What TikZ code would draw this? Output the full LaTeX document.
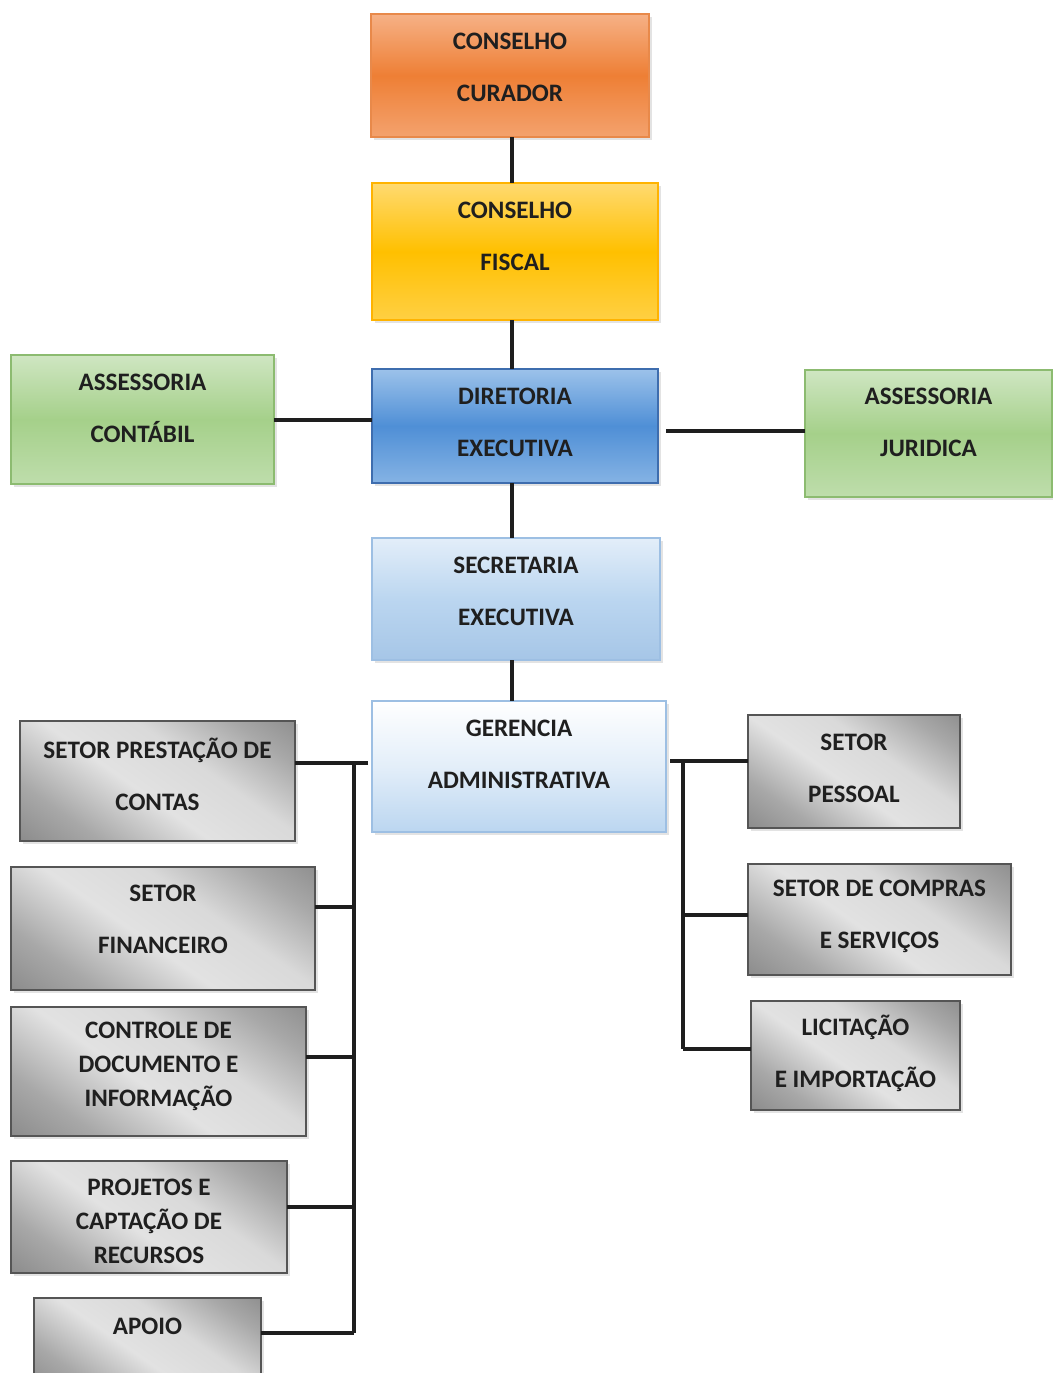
\documentclass[tikz,border=0pt]{standalone}
\usepackage{fontspec}
\setmainfont{Carlito}
\usetikzlibrary{shadows}
\definecolor{lnc}{HTML}{1E1E1E}
\definecolor{orM}{HTML}{EE7F35}
\definecolor{orL}{HTML}{F6B186}
\definecolor{orB}{HTML}{E8894A}
\definecolor{yeM}{HTML}{FFC000}
\definecolor{yeL}{HTML}{FFDA70}
\definecolor{blM}{HTML}{4F8FD6}
\definecolor{blL}{HTML}{9CC2EA}
\definecolor{blB}{HTML}{3E6DAE}
\definecolor{grM}{HTML}{A5D08A}
\definecolor{grL}{HTML}{CFE6C2}
\definecolor{grB}{HTML}{8CBB70}
\definecolor{lbM}{HTML}{BBD6F0}
\definecolor{lbL}{HTML}{E3EEF9}
\definecolor{lbB}{HTML}{9DBFE3}
\definecolor{gyD}{HTML}{6A6A6A}
\definecolor{gyM}{HTML}{A8A8A8}
\definecolor{gyL}{HTML}{E2E2E2}
\definecolor{gyB}{HTML}{555555}
\pgfdeclareverticalshading{grayshade}{100bp}{color(0bp)=(gyD); color(28bp)=(gyM); color(45bp)=(gyL); color(60bp)=(gyL!85!gyM); color(75bp)=(gyM); color(100bp)=(gyD)}
\tikzset{
  basebox/.style={rectangle, inner sep=0pt, outer sep=0pt, line width=1.2pt,
    drop shadow={opacity=0.22, shadow xshift=1.6pt, shadow yshift=-1.6pt}},
  orbox/.style={basebox, draw=orB, top color=orL, bottom color=orL!70!orM, middle color=orM},
  yebox/.style={basebox, draw=yeM!80!orange, top color=yeL, bottom color=yeL!60!yeM, middle color=yeM},
  blbox/.style={basebox, draw=blB, top color=blL, bottom color=blL!70!blM, middle color=blM},
  grbox/.style={basebox, draw=grB, top color=grL, bottom color=grL!60!grM, middle color=grM},
  lbbox/.style={basebox, draw=lbB, top color=lbL, bottom color=lbB!70!lbM, middle color=lbM},
  gebox/.style={basebox, draw=lbB, top color=white, bottom color=lbM, middle color=lbL},
  gybox/.style={basebox, draw=gyB, shading=grayshade, shading angle=-35},
  txt/.style={align=center, text=black!88, font=\bfseries\fontsize{14.3}{29.5}\selectfont, inner sep=0pt},
  txtt/.style={align=center, text=black!88, font=\bfseries\fontsize{14.3}{19.4}\selectfont, inner sep=0pt},
  conn/.style={draw=lnc, line width=1.75pt}
}
% name, x1, y1, x2, y2, style, text y, text, text style
\newcommand{\orgbox}[9]{%
  \node[#6, minimum width={(#4-#2)*0.02cm}, minimum height={(#5-#3)*0.02cm}] (#1) at ({(#2+#4)/2},{(#3+#5)/2}) {};
  \node[#9] (#1t) at ({(#2+#4)/2},#7) {#8};}
\begin{document}
\begin{tikzpicture}[x=0.02cm,y=-0.02cm]
\useasboundingbox (0,0) rectangle (1053,1373);
\clip (0,0) rectangle (1053,1373);
\fill[white] (0,0) rectangle (1053,1373);

\orgbox{cur}{371}{14}{649}{137}{orbox}{67}{CONSELHO\\CURADOR}{txt}
\orgbox{fis}{372}{183}{658}{320}{yebox}{236}{CONSELHO\\FISCAL}{txt}
\orgbox{dir}{372}{369}{658}{483}{blbox}{422}{DIRETORIA\\EXECUTIVA}{txt}
\orgbox{cont}{11}{355}{274}{484}{grbox}{408}{ASSESSORIA\\CONTÁBIL}{txt}
\orgbox{jur}{805}{370}{1052}{497}{grbox}{422}{ASSESSORIA\\JURIDICA}{txt}
\orgbox{sec}{372}{538}{660}{660}{lbbox}{591}{SECRETARIA\\EXECUTIVA}{txt}
\orgbox{ger}{372}{701}{666}{832}{gebox}{754}{GERENCIA\\ADMINISTRATIVA}{txt}

\orgbox{pre}{20}{721}{295}{841}{gybox}{774}{SETOR PRESTAÇÃO DE\\CONTAS}{txt}
\orgbox{fin}{11}{867}{315}{990}{gybox}{919}{SETOR\\FINANCEIRO}{txt}
\orgbox{ctl}{11}{1007}{306}{1136}{gybox}{1066}{CONTROLE DE\\DOCUMENTO E\\INFORMAÇÃO}{txtt}
\orgbox{pro}{11}{1161}{287}{1273}{gybox}{1221}{PROJETOS E\\CAPTAÇÃO DE\\RECURSOS}{txtt}
\orgbox{apo}{34}{1298}{261}{1390}{gybox}{1326}{APOIO}{txt}

\orgbox{pes}{748}{715}{960}{828}{gybox}{768}{SETOR\\PESSOAL}{txt}
\orgbox{com}{748}{864}{1011}{975}{gybox}{916}{SETOR DE COMPRAS\\E SERVIÇOS}{txt}
\orgbox{lic}{751}{1001}{960}{1110}{gybox}{1053}{LICITAÇÃO\\E IMPORTAÇÃO}{txt}

% vertical spine
\coordinate (sx) at (512,0);
\draw[conn] (cur.south -| sx) -- (fis.north -| sx);
\draw[conn] (fis.south -| sx) -- (dir.north -| sx);
\draw[conn] (dir.south -| sx) -- (sec.north -| sx);
\draw[conn] (sec.south -| sx) -- (ger.north -| sx);
% advisors
\coordinate (cj) at (274,420);
\draw[conn] (cj) -- (cj -| dir.west);
\coordinate (jj) at (666,431);
\draw[conn] (jj) -- (jj -| jur.west);

% left bus
\coordinate (lb0) at (354,763);
\coordinate (lb1) at (354,907);
\coordinate (lb2) at (354,1057);
\coordinate (lb3) at (354,1207);
\coordinate (lb4) at (354,1333);
\coordinate (lbg) at (368,763);
\draw[conn] (lbg) -- (lb0 -| pre.east);
\draw[conn] (lb0) -- (lb4);
\draw[conn] (lb1) -- (lb1 -| fin.east);
\draw[conn] (lb2) -- (lb2 -| ctl.east);
\draw[conn] (lb3) -- (lb3 -| pro.east);
\draw[conn] (lb4) -- (lb4 -| apo.east);

% right bus
\coordinate (rb0) at (683,761);
\coordinate (rb1) at (683,915);
\coordinate (rb2) at (683,1049);
\coordinate (rbg) at (670,761);
\draw[conn] (rbg) -- (rb0 -| pes.west);
\draw[conn] (rb0) -- (rb2);
\draw[conn] (rb1) -- (rb1 -| com.west);
\draw[conn] (rb2) -- (rb2 -| lic.west);
\end{tikzpicture}
\end{document}
